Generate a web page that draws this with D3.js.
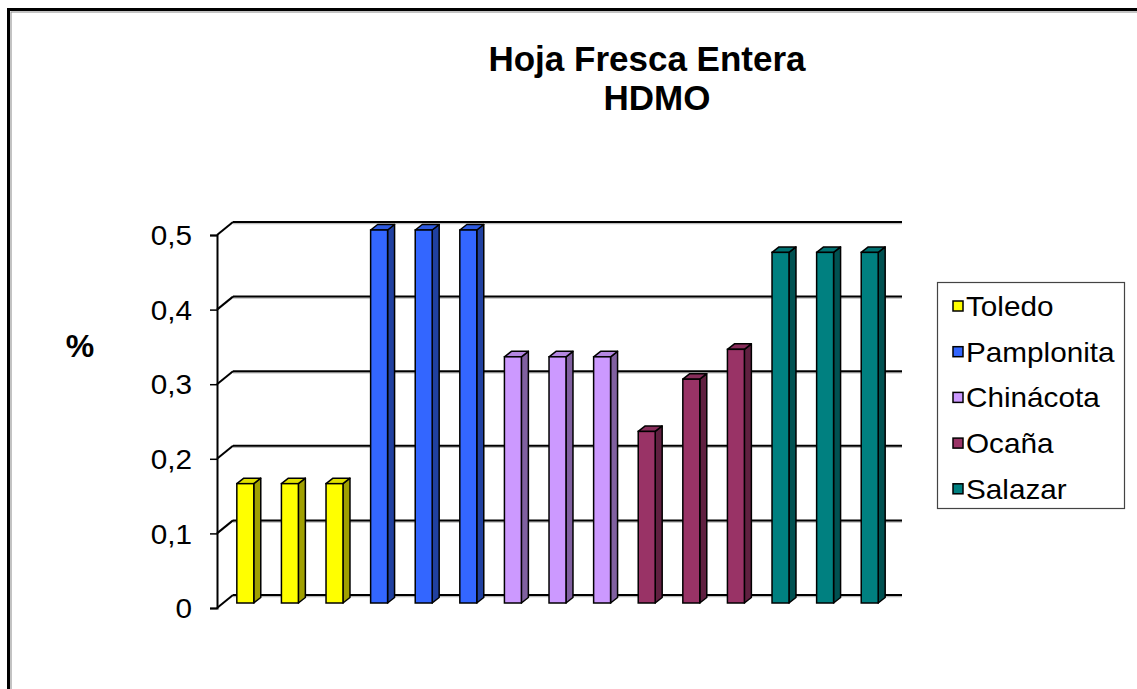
<!DOCTYPE html>
<html>
<head>
<meta charset="utf-8">
<script src="https://cdn.jsdelivr.net/npm/d3@7"></script>
<style>
  body { margin: 0; background: #fff; }
  svg { display: block; font-family: "Liberation Sans", Arial, sans-serif; }
</style>
</head>
<body>
<svg id="chart" width="1137" height="689"></svg>
<script>
// Data
const seriesNames = ["Toledo", "Pamplonita", "Chinácota", "Ocaña", "Salazar"];
const seriesColors = ["#ffff00", "#3366ff", "#cc99ff", "#993366", "#008080"];
const toledo = [0.16, 0.16, 0.16];
const pamplonita = [0.5, 0.5, 0.5];
const chinacota = [0.33, 0.33, 0.33];
const ocana = [0.23, 0.30, 0.34];
const salazar = [0.47, 0.47, 0.47];
const yTicks = [0, 0.1, 0.2, 0.3, 0.4, 0.5];
const titleLines = ["Hoja Fresca Entera", "HDMO"];

const seriesValues = [toledo, pamplonita, chinacota, ocana, salazar];

// one slot per bar, series kept together
const bars = [];
seriesValues.forEach((vals, s) => {
    vals.forEach((v, i) => {
        bars.push({ key: seriesNames[s] + "-" + (i + 1), series: s, value: v });
    });
});

const svg = d3.select("#chart");
const width = +svg.attr("width");
const height = +svg.attr("height");

svg.append("rect").attr("width", width).attr("height", height).attr("fill", "#fff");

// outer frame (right and bottom edges fall outside the picture)
svg.append("rect")
    .attr("x", 8.5).attr("y", 9.5)
    .attr("width", width + 20).attr("height", height + 20)
    .attr("fill", "none").attr("stroke", "#000").attr("stroke-width", 3);
svg.append("rect")
    .attr("x", 11).attr("y", 12)
    .attr("width", width + 20).attr("height", height + 20)
    .attr("fill", "none").attr("stroke", "#888").attr("stroke-width", 1);

// 3D geometry
const depth = { dx: 16, dy: -13 };      // back wall offset
const barOff = { dx: 6, dy: -5 };       // bar front face offset
const barDepth = { dx: 7, dy: -5.5 };   // bar thickness

const left = 217, right = 902 - depth.dx;
const y = d3.scaleLinear().domain([0, 0.5]).range([608, 235]);
const x = d3.scaleBand()
    .domain(bars.map(d => d.key))
    .range([left, right])
    .paddingInner(0.62)
    .paddingOuter(0.31);

const fmt = d3.formatLocale({ decimal: ",", thousands: ".", grouping: [3], currency: ["", ""] }).format("~g");

// back wall gridlines + side wall diagonals
const grid = svg.append("g");
yTicks.forEach(t => {
    const yb = y(t) + depth.dy;
    grid.append("line")
        .attr("x1", left + depth.dx).attr("x2", 902)
        .attr("y1", yb + 1.5).attr("y2", yb + 1.5)
        .attr("stroke", "#bbb").attr("stroke-width", 1.5);
    grid.append("line")
        .attr("x1", left + depth.dx).attr("x2", 902)
        .attr("y1", yb).attr("y2", yb)
        .attr("stroke", "#000").attr("stroke-width", 2);
    grid.append("line")
        .attr("x1", left).attr("y1", y(t))
        .attr("x2", left + depth.dx).attr("y2", yb)
        .attr("stroke", "#000").attr("stroke-width", 2);
});

// Y axis (labels a little wider, like the original)
const yAxis = svg.append("g")
    .attr("transform", `translate(${left},0)`)
    .call(d3.axisLeft(y).tickValues(yTicks).tickSize(7).tickFormat(fmt));
yAxis.select(".domain").attr("stroke", "#000").attr("stroke-width", 2);
yAxis.selectAll(".tick line").attr("stroke", "#000").attr("stroke-width", 1.5);
yAxis.selectAll(".tick text")
    .attr("x", 0)
    .attr("transform", "translate(-25,1) scale(1.1,1)")
    .attr("font-size", "27px")
    .attr("font-family", "Liberation Sans, Arial, sans-serif")
    .attr("fill", "#000");

// bars
const barG = svg.append("g");
bars.forEach(d => {
    const base = d3.color(seriesColors[d.series]);
    const x0 = x(d.key) + barOff.dx;
    const x1 = x0 + x.bandwidth();
    const yTop = y(d.value) + barOff.dy;
    const yBot = y(0) + barOff.dy;
    const dx = barDepth.dx, dy = barDepth.dy;
    const pts = a => a.map(p => p.join(",")).join(" ");
    // side
    barG.append("polygon")
        .attr("points", pts([[x1, yTop], [x1 + dx, yTop + dy], [x1 + dx, yBot + dy], [x1, yBot]]))
        .attr("fill", base.darker(1.3)).attr("stroke", "#000").attr("stroke-width", 1.5)
        .attr("stroke-linejoin", "round");
    // top
    barG.append("polygon")
        .attr("points", pts([[x0, yTop], [x0 + dx, yTop + dy], [x1 + dx, yTop + dy], [x1, yTop]]))
        .attr("fill", base.darker(0.35)).attr("stroke", "#000").attr("stroke-width", 1.5)
        .attr("stroke-linejoin", "round");
    // front
    barG.append("rect")
        .attr("x", x0).attr("y", yTop)
        .attr("width", x.bandwidth()).attr("height", yBot - yTop)
        .attr("fill", base).attr("stroke", "#000").attr("stroke-width", 1.5);
});

// title
svg.append("text")
    .attr("x", 647).attr("y", 71)
    .attr("text-anchor", "middle")
    .attr("font-size", "35px").attr("font-weight", "bold")
    .text(titleLines[0]);
svg.append("text")
    .attr("x", 657).attr("y", 110)
    .attr("text-anchor", "middle")
    .attr("font-size", "35px").attr("font-weight", "bold")
    .text(titleLines[1]);

// axis title
svg.append("text")
    .attr("x", 80).attr("y", 357)
    .attr("text-anchor", "middle")
    .attr("font-size", "32px").attr("font-weight", "bold")
    .text("%");

// legend
const legend = svg.append("g").attr("transform", "translate(937,282)");
legend.append("rect")
    .attr("x", 0.5).attr("y", 0.5)
    .attr("width", 187).attr("height", 226)
    .attr("fill", "#fff").attr("stroke", "#444").attr("stroke-width", 1.2);
seriesNames.forEach((name, i) => {
    const cy = 24 + i * 45.7;
    legend.append("rect")
        .attr("x", 16).attr("y", cy - 5)
        .attr("width", 10).attr("height", 10)
        .attr("fill", seriesColors[i]).attr("stroke", "#000").attr("stroke-width", 1.5);
    legend.append("text")
        .attr("transform", `translate(29,${cy + 10}) scale(1.1,1)`)
        .attr("font-size", "27px")
        .text(name);
});
</script>
</body>
</html>
